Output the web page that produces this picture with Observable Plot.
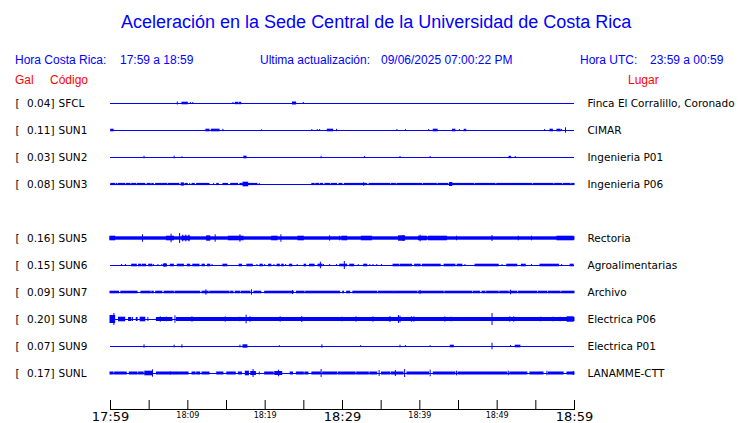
<!DOCTYPE html>
<html><head><meta charset="utf-8">
<script src="https://cdn.jsdelivr.net/npm/d3@7"></script>
<script src="https://cdn.jsdelivr.net/npm/@observablehq/plot@0.6"></script>
<style>
body{margin:0;background:#fff;}
#wrap{position:relative;width:740px;height:423px;overflow:hidden;font-family:"Liberation Sans",Arial,sans-serif;}
.h{position:absolute;white-space:pre;font-size:12px;line-height:12px;color:#0000ff;}
.r{color:#ff0000;}
#title{position:absolute;left:121px;top:13px;font-size:18px;line-height:18px;color:#0000ff;white-space:pre;}
#chart{position:absolute;left:0;top:90px;}
</style></head>
<body><div id="wrap">
<div id="title">Aceleración en la Sede Central de la Universidad de Costa Rica</div>
<div class="h" style="left:15px;top:54px">Hora Costa Rica:</div>
<div class="h" style="left:120px;top:54px">17:59 a 18:59</div>
<div class="h" style="left:260px;top:54px">Ultima actualización:</div>
<div class="h" style="left:381px;top:54px">09/06/2025 07:00:22 PM</div>
<div class="h" style="left:580px;top:54px">Hora UTC:</div>
<div class="h" style="left:650px;top:54px">23:59 a 00:59</div>
<div class="h r" style="left:15px;top:74px">Gal</div>
<div class="h r" style="left:50px;top:74px">Código</div>
<div class="h r" style="left:628px;top:74px">Lugar</div>
<div id="chart"></div>
</div>
<script>
// Stations (row order, SUN4 slot empty)
const codes  = ["SFCL","SUN1","SUN2","SUN3","SUN5","SUN6","SUN7","SUN8","SUN9","SUNL"];
const gals   = [0.04, 0.11, 0.03, 0.08, 0.16, 0.15, 0.09, 0.20, 0.07, 0.17];
const places = ["Finca El Corralillo, Coronado","CIMAR","Ingenieria P01","Ingenieria P06","Rectoria","Agroalimentarias","Archivo","Electrica P06","Electrica P01","LANAMME-CTT"];
const slots  = [0, 1, 2, 3, 5, 6, 7, 8, 9, 10];

// Time window: minutes after 17:59
const windowStart = 0, windowEnd = 60;
const tickMinutes = [0,5,10,15,20,25,30,35,40,45,50,55,60];
const majorTicks = [0, 30, 60];
const majorLabels = ["17:59", "18:29", "18:59"];
const minorTicks = [10, 20, 40, 50];
const minorLabels = ["18:09", "18:19", "18:39", "18:49"];

// Bursts: [start min, end min, half amplitude]
const sfcl = [[8.7,8.7,1.5],[9.3,10.0,1.3],[10.4,10.4,1],[10.7,10.7,1],[15.9,15.9,1],[16.2,16.5,1.2],[16.7,16.9,1.2],[23.6,24.0,1.5],[25.0,25.0,1]];
const sun1 = [[0.1,0.4,1.3],[12.4,12.8,1.3],[13.1,13.5,1.3],[13.6,14.1,1.3],[14.6,14.6,1.2],[19.6,19.6,0.7],[26.1,26.1,1],[26.8,26.8,1],[27.1,27.1,1],[28.1,28.8,1.3],[29.3,29.3,1.2],[37.1,37.1,1],[38.2,38.2,1],[41.2,41.2,1],[41.8,42.3,1.3],[44.3,44.6,1.3],[45.2,45.2,1],[45.8,46.0,1.2],[56.2,56.2,1],[56.9,57.2,1.3],[57.8,58.2,1.3],[58.4,58.4,1],[58.9,58.9,2.7]];
const sun2 = [[4.4,4.4,1.3],[8.3,8.3,1.3],[9.3,9.3,0.8],[17.3,17.6,1.3],[27.3,27.3,1.2],[32.9,32.9,1],[37.5,37.5,1],[41.4,41.4,1],[51.6,51.8,1.2],[52.4,52.4,1]];
const sun3 = [[0.1,0.6,1.1],[0.8,0.9,1.1],[1.1,1.6,1.1],[1.7,1.9,1.1],[2.1,2.6,1.1],[2.8,3.3,1.1],[3.5,4.5,1.1],[4.8,5.2,1.1],[5.4,5.6,1.1],[5.9,6.6,1.1],[6.7,7.3,1.1],[7.5,8.9,1.1],[9.2,9.5,1.6],[9.7,10.0,1.1],[10.3,10.3,1.1],[10.6,10.9,1.1],[11.2,12.8,1.1],[13.4,13.4,1.1],[13.8,14.0,1.1],[14.6,15.2,1.1],[15.6,16.5,1.1],[16.8,17.1,1.1],[17.2,17.8,2.3],[17.9,19.0,1.1],[19.3,19.3,1.1],[26.1,26.4,1.1],[26.6,27.0,1.1],[27.2,27.5,1.1],[27.8,28.4,1.1],[28.6,29.3,1.1],[29.6,30.0,1.1],[30.3,32.3,1.1],[32.4,33.2,1.1],[32.8,32.8,1.8],[33.5,36.2,1.1],[36.4,36.9,1.1],[37.1,40.3,1.1],[40.5,42.2,1.1],[42.4,43.7,1.1],[43.9,44.2,2],[44.2,47.0,1.1],[47.2,49.8,1.1],[50.0,54.5,1.1],[54.7,57.3,1.1],[57.5,58.4,1.1],[58.6,59.5,1.1],[59.7,60,1.1]];
const sun5 = [[0,60,1.7],[0,0.6,2.3],[4.2,4.2,3.7],[7.3,8.2,2.3],[7.9,7.9,4.3],[9.0,9.0,5],[9.3,10.3,2.3],[9.4,9.4,3.3],[9.8,9.8,3.3],[10.2,10.2,3.3],[12.5,12.9,2.7],[13.6,13.6,3.7],[15.3,17.2,2.3],[16.8,16.8,3.7],[20.9,21.6,2.3],[22.1,22.1,3.7],[24.3,25.0,2.3],[28.4,28.4,2.7],[29.7,29.7,2.3],[30.0,30.6,2.3],[32.5,33.8,2.3],[37.3,38.1,2.7],[37.9,37.9,3],[39.9,40.9,2.3],[40.1,40.1,3.3],[41.2,43.5,2.3],[44.8,44.8,2.3],[49.4,49.4,3],[52.8,52.8,2.3],[54.5,54.5,2.3],[57.8,59.9,2.3]];
const sun6 = [[1.5,1.5,1],[2.0,2.0,1],[2.8,3.4,1.3],[3.7,4.0,1.3],[4.2,4.6,1.3],[5.0,5.4,1.3],[5.6,5.6,1],[6.2,6.2,1],[6.7,6.7,1],[6.9,7.3,1.5],[7.1,7.1,2],[7.8,8.2,1.3],[8.7,9.5,1.3],[10.0,10.3,1.3],[10.7,11.5,1.3],[11.9,12.2,1.3],[12.6,12.9,1.3],[13.2,13.2,1],[14.6,15.1,1.3],[16.7,17.0,1.3],[17.7,18.4,1.3],[19.0,19.0,1],[19.4,19.7,1.3],[20.0,20.0,1],[20.5,20.8,1.3],[21.2,21.2,1],[21.6,21.9,1.3],[22.2,22.4,1.3],[22.7,22.7,1],[23.2,23.5,1.3],[24.2,24.2,1],[25.1,25.3,1.3],[25.8,26.4,1.3],[26.9,27.4,1.3],[27.2,27.2,3.3],[27.6,27.6,1],[28.4,28.4,1],[29.3,29.3,1],[29.7,30.6,1.3],[30.3,30.3,4],[31.0,31.5,1.3],[32.1,32.1,1],[32.8,33.2,1.3],[33.6,33.6,1],[34.0,34.0,1],[34.5,34.5,1],[35.1,35.1,1],[36.6,37.3,1.3],[37.5,39.0,1.3],[39.4,40.1,1.3],[40.4,42.7,1.3],[43.2,44.6,1.3],[44.9,45.5,1.3],[45.9,45.9,1],[47.2,50.2,1.3],[50.7,50.7,1],[51.3,52.6,1.3],[53.2,53.7,1.3],[54.5,54.5,1],[55.6,58.0,1.3],[58.4,58.4,1],[59.5,59.9,1.3]];
const sun7 = [[0,1.1,1.3],[1.4,3.5,1.3],[4.0,5.2,1.3],[5.4,5.6,1.3],[5.9,6.7,1.3],[7.0,8.2,1.3],[8.4,11.2,1.3],[11.3,11.6,1.3],[11.9,12.7,1.3],[12.4,12.4,2.7],[12.9,15.4,1.3],[15.6,15.9,1.3],[16.2,16.8,1.3],[17.0,18.1,1.3],[18.3,18.3,2.7],[18.6,19.5,1.3],[20.0,23.7,1.3],[23.6,23.6,2],[24.1,25.1,1.3],[25.3,25.9,1.3],[26.0,29.7,1.3],[30.1,30.2,1.3],[30.6,31.0,1.3],[31.4,34.5,1.3],[34.7,36.6,1.3],[36.7,39.7,1.3],[39.9,43.1,1.3],[40.1,40.1,2],[43.3,46.8,1.3],[47.0,47.8,1.3],[48.1,48.5,1.3],[48.7,50.2,1.3],[50.4,51.5,1.3],[51.7,52.6,1.3],[51.8,51.8,2.3],[52.8,55.2,1.3],[55.4,56.5,1.3],[56.7,58.2,1.3],[58.4,60,1.3]];
const sun8 = [[0,0.6,4],[0.5,0.5,6],[1.1,1.9,2.3],[2.4,2.7,2],[2.9,2.9,2],[3.4,3.5,2],[3.9,4.5,2.3],[4.9,4.9,2],[6.0,8.0,2],[6.5,6.5,2.7],[7.3,7.3,2.3],[8.4,8.4,3.7],[8.6,60,2],[10.6,10.6,2.7],[14.9,14.9,2.7],[16.8,16.8,2.3],[17.6,17.6,4.3],[18.1,18.1,2.7],[22.0,22.0,2.7],[24.8,24.8,3],[30.0,30.0,2.3],[31.8,31.8,2.7],[34.0,34.0,2.7],[36.2,36.2,3],[37.3,37.3,4],[37.5,37.5,3.3],[39.0,39.0,2.7],[39.3,39.3,2.7],[43.3,43.3,2.7],[44.1,44.1,2.3],[49.4,49.4,6],[51.7,51.7,2.7],[52.2,52.2,2.7],[55.7,55.7,2.3],[57.3,57.3,2.3],[58.2,58.2,2.3],[59.1,59.9,2.7]];
const sun9 = [[4.4,4.4,1.7],[8.3,8.3,1.3],[9.3,9.3,1.7],[16.8,16.8,1.3],[17.2,17.7,1.7],[21.9,21.9,0.8],[27.4,27.4,1.7],[32.4,32.4,0.8],[37.5,37.5,1.3],[38.2,38.2,1],[41.4,41.4,0.8],[44.0,44.4,1.3],[49.4,49.4,3.3],[51.8,51.8,1],[52.4,53.0,1.3]];
const sunl = [[0,0.4,1.5],[0.6,2.1,1.5],[2.5,3.5,1.5],[3.7,4.3,1.5],[4.5,5.4,2.3],[5.5,5.5,3.7],[6.0,7.8,1.5],[7.8,8.6,1.5],[8.7,10.1,1.5],[10.6,11.0,1.5],[11.2,11.6,1.5],[11.9,12.8,1.5],[13.8,14.6,1.5],[15.1,16.2,1.5],[16.6,17.0,1.5],[17.5,17.9,2.3],[18.2,18.8,2],[18.5,18.5,4],[19.3,19.3,1.5],[20.0,21.1,1.5],[21.3,22.2,2],[21.8,21.8,3.3],[23.3,23.6,1.5],[24.1,25.0,1.5],[25.2,25.6,1.5],[26.1,27.2,1.5],[27.3,27.3,4],[27.5,29.3,1.5],[29.5,31.7,1.5],[31.9,33.4,1.5],[33.6,34.5,1.5],[34.8,34.8,3],[35.1,36.2,1.5],[36.4,37.9,1.5],[36.9,36.9,3],[38.1,38.1,4],[38.4,41.2,1.5],[41.4,41.4,3.3],[41.8,44.6,1.5],[44.8,44.8,2.3],[45.0,51.3,1.5],[51.5,51.5,2.3],[51.7,53.9,1.5],[54.3,56.0,1.5],[56.5,56.5,2.3],[56.7,58.6,1.5],[59.1,60,1.5],[59.9,59.9,2]];
const burstLists = [sfcl, sun1, sun2, sun3, sun5, sun6, sun7, sun8, sun9, sunl];

const rowsPerUnit = 1 / 27; // amplitude unit -> row units
const blue = "#0000ff";

const stations = codes.map((c, i) => ({code: c, gal: gals[i], place: places[i], slot: slots[i]}));
const bursts = burstLists.flatMap((list, i) => list.map(([t0, t1, a]) => ({slot: slots[i], t0, t1, a})));
const majors = majorTicks.map((t, i) => ({t, label: majorLabels[i]}));
const minors = minorTicks.map((t, i) => ({t, label: minorLabels[i]}));

const font = "DejaVu Sans";
const chart = Plot.plot({
  width: 740, height: 333,
  marginLeft: 110, marginRight: 166, marginTop: 0, marginBottom: 14,
  style: {background: "#fff", overflow: "visible"},
  x: {domain: [windowStart, windowEnd]},
  y: {domain: [0, 10], range: [13, 283], axis: null},
  marks: [
    Plot.ruleY(stations, {y: "slot", x1: () => windowStart, x2: () => windowEnd, stroke: blue, strokeWidth: 1}),
    Plot.rect(bursts, {x1: "t0", x2: "t1", y1: d => d.slot - d.a * rowsPerUnit, y2: d => d.slot + d.a * rowsPerUnit, fill: blue, insetLeft: -0.5, insetRight: -0.5}),
    Plot.text(stations, {y: "slot", text: () => "[", frameAnchor: "left", dx: -95, textAnchor: "start", fontFamily: font, fontSize: 10.5, fill: "#000"}),
    Plot.text(stations, {y: "slot", text: d => d.gal.toFixed(2) + "]", frameAnchor: "left", dx: -56, textAnchor: "end", fontFamily: font, fontSize: 10.5, fill: "#000"}),
    Plot.text(stations, {y: "slot", text: "code", frameAnchor: "left", dx: -52, textAnchor: "start", fontFamily: font, fontSize: 10.5, fill: "#000"}),
    Plot.text(stations, {y: "slot", text: "place", frameAnchor: "right", dx: 13, textAnchor: "start", fontFamily: font, fontSize: 10.5, fill: "#000"}),
    Plot.axisX(tickMinutes, {tickSize: -9, tickFormat: () => "", label: null, stroke: "#000"}),
    Plot.frame({anchor: "bottom", stroke: "#000"}),
    Plot.text(majors, {x: "t", text: "label", frameAnchor: "bottom", lineAnchor: "top", dy: 2, fontFamily: font, fontSize: 13, fill: "#000"}),
    Plot.text(minors, {x: "t", text: "label", frameAnchor: "bottom", lineAnchor: "top", dy: 3, fontFamily: font, fontSize: 8, fill: "#000"})
  ]
});
document.getElementById("chart").appendChild(chart);
</script>
</body></html>
